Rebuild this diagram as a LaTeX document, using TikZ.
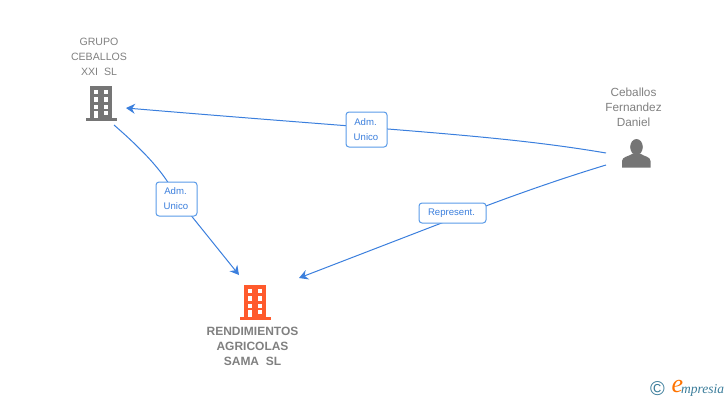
\documentclass[tikz,border=0pt]{standalone}
\usepackage{fontspec}
\setmainfont{Liberation Sans}
\newfontfamily\logofont{Liberation Serif}
\usetikzlibrary{arrows.meta}

\definecolor{linkblue}{HTML}{3B7FDD}
\definecolor{boxblue}{HTML}{5A9BE8}
\definecolor{namegray}{HTML}{808080}
\definecolor{icongray}{HTML}{757575}
\definecolor{firmorange}{HTML}{FF5A2C}
\definecolor{logoteal}{HTML}{3A7C9A}

\tikzset{
  link/.style={draw=linkblue, line width=1pt, -{Stealth[length=9pt,width=10pt,inset=3pt]}},
  tag/.style={draw=boxblue, fill=white, line width=1pt, rounded corners=3pt, text=linkblue, align=center,
    inner sep=0pt, font=\fontsize{9.6}{15}\selectfont},
  firmname/.style={text=namegray, align=center, inner sep=0pt, font=\fontsize{10.6}{15}\selectfont},
  pics/building/.style={code={
    \fill[#1] (-11,-17) rectangle (11,15);
    \fill[#1] (-15.5,14.5) rectangle (15.5,17.5);
    \foreach \wx in {-5,5}
      \foreach \wy in {-10.8,-3.5,4}
        \fill[white] (\wx-2.4,\wy-2.1) rectangle (\wx+2.4,\wy+2.1);
    \fill[white] (-7.4,7.8) rectangle (-2.6,15);
    \fill[white] (2.6,7.8) rectangle (7.4,12);
  }},
}

\begin{document}
\begin{tikzpicture}[x=1pt, y=-1pt]
  \useasboundingbox (0,0) rectangle (728,400);

  % icons
  \pic at (101,103) {building=icongray};
  \pic at (255,302) {building=firmorange};
  \fill[icongray] (636.5,147) ellipse (6.3 and 8);
  \fill[icongray] (622,167.5) -- (622,161) .. controls (622,156.5) and (629,156.5) .. (633,153.5)
    -- (640,153.5) .. controls (644,156.5) and (650.5,156.5) .. (650.5,161) -- (650.5,167.5) -- cycle;

  % names
  \node[firmname] (grupo) at (99,57) {GRUPO\\CEBALLOS\\XXI\ \ SL};
  \node[firmname, font=\fontsize{11.8}{15}\selectfont] (daniel) at (633.5,107) {Ceballos\\Fernandez\\Daniel};
  \node[firmname, font=\fontsize{12}{15}\selectfont\bfseries] (sama) at (252.5,346) {RENDIMIENTOS\\AGRICOLAS\\SAMA\ \ SL};

  % ends of the links
  \coordinate (grupoin) at (126,108);
  \coordinate (grupoout) at (114,125);
  \coordinate (danielup) at (606,153);
  \coordinate (danieldown) at (606,165);
  \coordinate (samaleft) at (239,275);
  \coordinate (samaright) at (299,278);

  % links
  \draw[link] (danielup) .. controls (500,135) and (400,131) .. (grupoin);
  \draw[link] (grupoout) .. controls (152,158) and (167,178) .. (177,198) -- (samaleft);
  \draw[link] (danieldown) .. controls (540,185) and (480,208) .. (452,219) -- (samaright);

  % labels on the links
  \node[tag, minimum width=41pt, minimum height=35pt, text depth=0pt] (admtop) at (366.5,129.5) {\hspace*{-2pt}Adm.\\\hspace*{-1pt}Unico};
  \node[tag, minimum width=41pt, minimum height=34pt, text depth=0pt] (admleft) at (176.5,199) {\hspace*{-2pt}Adm.\\\hspace*{-1pt}Unico};
  \node[tag, minimum width=67pt, minimum height=20pt] (repres) at (452.5,213) {\hspace*{-2pt}Represent.};

  % logo
  \node[text=logoteal, inner sep=0pt, font=\fontsize{20}{20}\selectfont] (copyr) at (657.5,389) {©};
  \node[text=orange!90!red, inner sep=0pt, font=\logofont\itshape\fontsize{26}{26}\selectfont] (logoe) at (677.5,386) {e};
  \node[text=logoteal, anchor=west, inner sep=0pt, font=\logofont\itshape\fontsize{13.5}{14}\selectfont] (logotext) at (681,390) {mpresia};
\end{tikzpicture}
\end{document}
